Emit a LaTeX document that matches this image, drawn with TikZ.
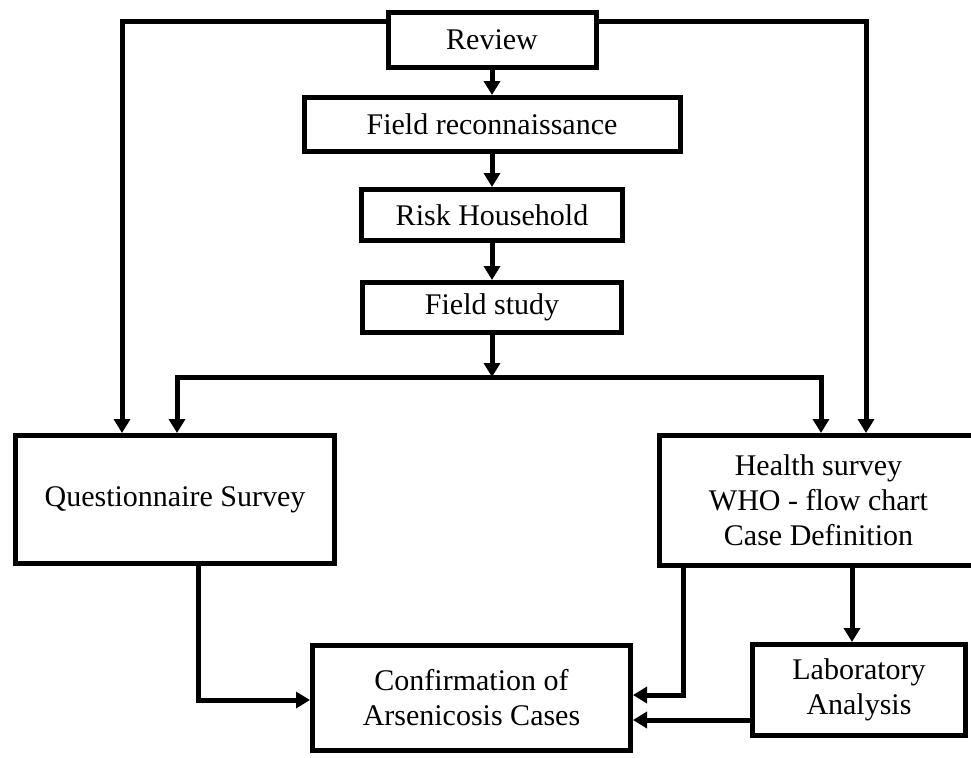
\documentclass[tikz,border=0pt]{standalone}
\usepackage{fontspec}
\setmainfont{Liberation Serif}
\usepackage{tikz}
\usetikzlibrary{arrows.meta}

\begin{document}
\begin{tikzpicture}[x=0.5pt,y=-0.5pt]

	\tikzstyle box=[draw,line width=2.5pt,inner sep=0pt,align=center,font=\fontsize{15}{17.5}\selectfont];
	\tikzstyle flow=[line width=2.5pt,-{Triangle[length=7pt,width=8pt]}];
	\tikzstyle both=[line width=2.5pt,{Triangle[length=7pt,width=8pt]}-{Triangle[length=7pt,width=8pt]}];

	\useasboundingbox (0,0) rectangle (971,757);

	% middle column
	\node[box,minimum width=104pt,minimum height=27.5pt] (review) at (492,40) {Review};
	\node[box,minimum width=188pt,minimum height=27pt] (recon) at (492,124.5) {Field reconnaissance};
	\node[box,minimum width=130.5pt,minimum height=25.5pt] (risk) at (492,215) {Risk Household};
	\node[box,minimum width=129.5pt,minimum height=25pt] (study) at (492,307.5) {Field study};

	% surveys
	\node[box,minimum width=159.5pt,minimum height=64pt] (quest) at (175,499.5) {Questionnaire Survey};
	\node[box,minimum width=159pt,minimum height=65pt] (health) at (818.5,500.5) {Health survey\\WHO - flow chart\\Case Definition};

	% bottom row
	\node[box,minimum width=159pt,minimum height=52.5pt] (confirm) at (471.5,698) {Confirmation of\\Arsenicosis Cases};
	\node[box,minimum width=106.5pt,minimum height=45.5pt] (lab) at (859,690) {Laboratory\\Analysis};

	\coordinate (topl) at (122,21);
	\coordinate (topr) at (866,21);
	\coordinate (split) at (492,377);
	\coordinate (barl) at (177,377);
	\coordinate (barr) at (821,377);
	\coordinate (qc) at (198,700);
	\coordinate (hc) at (683,695);
	\coordinate (hl) at (852,0);
	\coordinate (lc) at (0,720);

	\foreach \a/\b in {review/recon,recon/risk,risk/study}
		\draw[flow] (\a.south) -- (\b.north);
	\draw[flow] (study.south) -- (split);

	\draw[flow] (review.west |- topl) -- (topl) -- (topl |- quest.north);
	\draw[flow] (review.east |- topr) -- (topr) -- (topr |- health.north);
	\draw[both] (barl |- quest.north) -- (barl) -- (barr) -- (barr |- health.north);

	\draw[flow] (qc |- quest.south) -- (qc) -- (confirm.west |- qc);
	\draw[flow] (hc |- health.south) -- (hc) -- (confirm.east |- hc);
	\draw[flow] (hl |- health.south) -- (hl |- lab.north);
	\draw[flow] (lab.west |- lc) -- (confirm.east |- lc);

\end{tikzpicture}
\end{document}
